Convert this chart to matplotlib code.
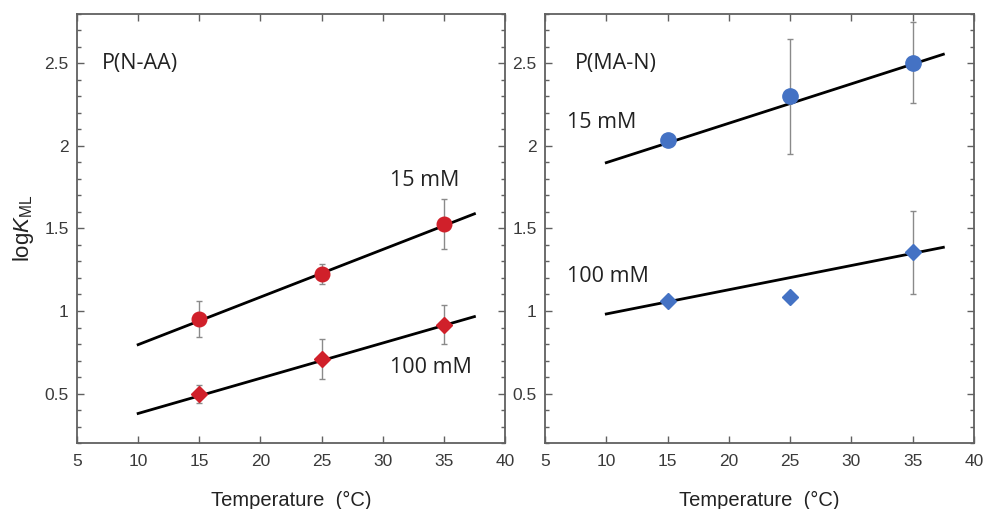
import matplotlib
matplotlib.use("Agg")
import matplotlib.pyplot as plt
from matplotlib.ticker import MultipleLocator, FuncFormatter

plt.rcParams['font.family'] = ['Liberation Sans', 'DejaVu Sans']
plt.rcParams['mathtext.fontset'] = 'custom'
plt.rcParams['mathtext.rm'] = 'Liberation Sans'
plt.rcParams['mathtext.it'] = 'Liberation Sans:italic'

# ---- data ----
temps = [15, 25, 35]
fit_x = [10, 37.5]

# P(N-AA)
naa_15 = [0.95, 1.225, 1.528]
naa_15_err = [0.11, 0.06, 0.15]
naa_100 = [0.496, 0.709, 0.917]
naa_100_err = [0.055, 0.12, 0.12]
naa_15_fit = [0.796, 1.589]
naa_100_fit = [0.379, 0.966]

# P(MA-N)
man_15 = [2.034, 2.301, 2.504]
man_15_err = [0.0, 0.35, 0.245]
man_100 = [1.062, 1.083, 1.356]
man_100_err = [0.0, 0.0, 0.25]
man_15_fit = [1.899, 2.556]
man_100_fit = [0.982, 1.386]

panel_titles = ["P(N-AA)", "P(MA-N)"]
conc_labels = ["15 mM", "100 mM"]
xlabel = "Temperature  (\u00b0C)"
ylabel = r"log$\it{K}$$_{\rm ML}$"

red = "#d0202a"
blue = "#4472c4"
spine_col = "#606060"
err_col = "#8a8a8a"

fig = plt.figure(figsize=(9.84, 5.09), dpi=100)
ax1 = fig.add_axes([77/984, 66/509, 428/984, 429/509])
ax2 = fig.add_axes([545/984, 66/509, 429/984, 429/509])

def style(ax):
    ax.set_xlim(5, 40)
    ax.set_ylim(0.2, 2.8)
    ax.xaxis.set_major_locator(MultipleLocator(5))
    ax.yaxis.set_major_locator(MultipleLocator(0.5))
    ax.yaxis.set_minor_locator(MultipleLocator(0.1))
    ax.yaxis.set_major_formatter(FuncFormatter(lambda v, p: f"{v:g}"))
    ax.tick_params(which='both', direction='in', top=True, right=True,
                   colors=spine_col, labelcolor='#3a3a3a', labelsize=12.5, width=1)
    ax.tick_params(which='major', length=5, pad=8)
    ax.tick_params(which='minor', length=3)
    ax.tick_params(axis='y', pad=6)
    for s in ax.spines.values():
        s.set_color(spine_col)
        s.set_linewidth(1.3)
    ax.set_xlabel(xlabel, fontsize=14.5, color='#222222', labelpad=16)

style(ax1)
style(ax2)

lfont = dict(family=['Open Sans', 'DejaVu Sans'], fontsize=15.5, color='#222222')

# left panel
ax1.plot(fit_x, naa_15_fit, color='black', lw=2, zorder=2)
ax1.plot(fit_x, naa_100_fit, color='black', lw=2, zorder=2)
ax1.errorbar(temps, naa_15, yerr=naa_15_err, fmt='o', color=red, ms=10.5,
             ecolor=err_col, elinewidth=1, capsize=2, zorder=3)
ax1.errorbar(temps, naa_100, yerr=naa_100_err, fmt='D', color=red, ms=8,
             ecolor=err_col, elinewidth=1, capsize=2, zorder=3)
ax1.text(7.0, 2.5, panel_titles[0], va='center', ha='left', **lfont)
ax1.text(30.6, 1.79, conc_labels[0], va='center', ha='left', **lfont)
ax1.text(30.6, 0.66, conc_labels[1], va='center', ha='left', **lfont)
ax1.set_ylabel(ylabel, fontsize=16, color='#222222', labelpad=6)

# right panel
ax2.plot(fit_x, man_15_fit, color='black', lw=2, zorder=2)
ax2.plot(fit_x, man_100_fit, color='black', lw=2, zorder=2)
ax2.errorbar(temps, man_15, yerr=man_15_err, fmt='o', color=blue, ms=11,
             ecolor=err_col, elinewidth=1, capsize=2, zorder=3)
ax2.errorbar(temps, man_100, yerr=man_100_err, fmt='D', color=blue, ms=8,
             ecolor=err_col, elinewidth=1, capsize=2, zorder=3)
ax2.text(7.4, 2.5, panel_titles[1], va='center', ha='left', **lfont)
ax2.text(6.8, 2.14, conc_labels[0], va='center', ha='left', **lfont)
ax2.text(6.8, 1.21, conc_labels[1], va='center', ha='left', **lfont)

fig.savefig("out.png", dpi=100, facecolor='white')
